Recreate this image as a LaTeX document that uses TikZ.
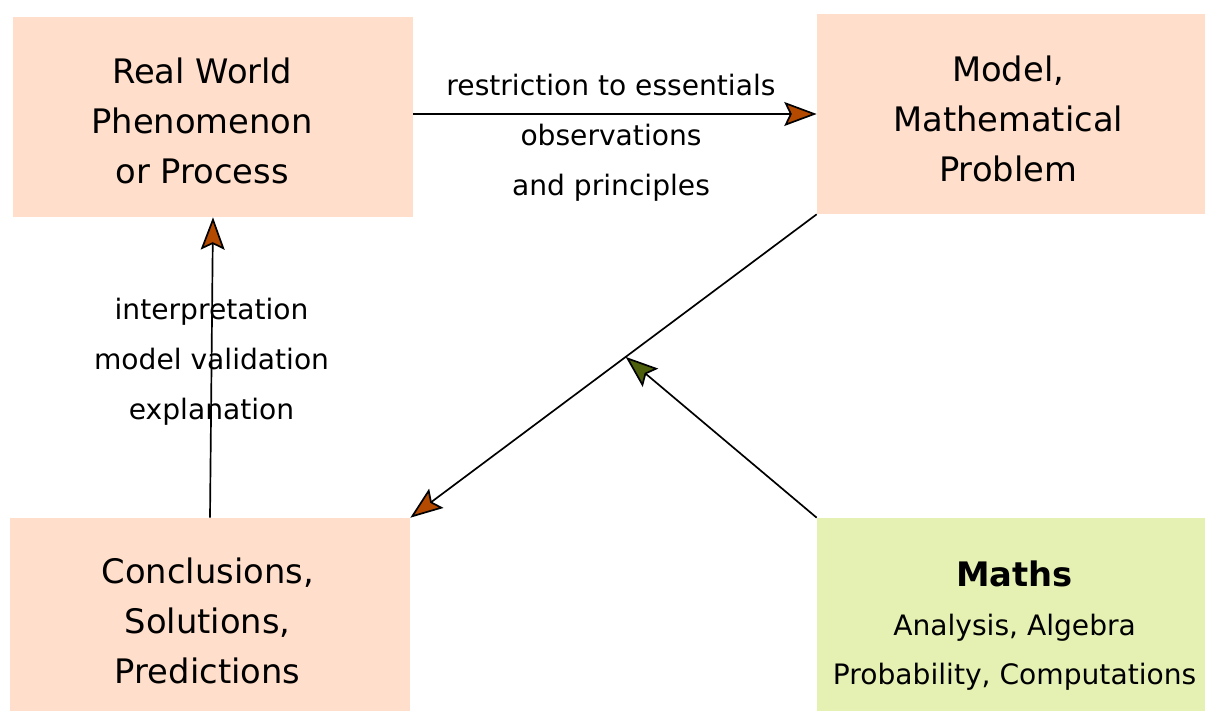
\documentclass[tikz,border=0pt]{standalone}
\usepackage{fontspec}
\setmainfont{DejaVu Sans}
\usetikzlibrary{positioning}
\usetikzlibrary{calc,arrows.meta}

\definecolor{peach}{HTML}{FFDECB}
\definecolor{lime}{HTML}{E5F0B3}
\definecolor{rust}{HTML}{B34A00}
\definecolor{olive}{HTML}{4E5F0C}

\tikzset{
	stage/.style={fill=peach, inner sep=0pt},
	stagetext/.style={align=center, font=\fontsize{24}{35.6}\selectfont},
	flow/.style={line width=1.2pt, arrows={-Stealth[length=23pt, width=17pt, inset=4pt, fill=rust]}},
	feed/.style={line width=1.2pt, arrows={-Stealth[length=23pt, width=17pt, inset=4pt, fill=olive]}},
	note/.style={align=center, font=\fontsize{20}{35.6}\selectfont},
}

\begin{document}
\begin{tikzpicture}[x=0.025cm, y=-0.025cm]
	\useasboundingbox (0,0) rectangle (1205,711);

	% ---------------------
	% Stages of the modelling cycle
	\node[stage, minimum width=10cm, minimum height=5cm,
		label={[stagetext, xshift=-0.27cm, yshift=-0.1cm]center:Real World\\Phenomenon\\or Process}]
		(RealWorld) at (213,117) {};
	\node[stage, minimum width=9.7cm, minimum height=5cm,
		label={[stagetext, xshift=-0.07cm, yshift=-0.13cm]center:Model,\\Mathematical\\Problem}]
		(Model) at (1011,114) {};
	\node[stage, minimum width=10cm, minimum height=4.825cm,
		label={[stagetext, xshift=-0.06cm, yshift=-0.15cm]center:Conclusions,\\Solutions,\\Predictions}]
		(Conclusions) at (210,614.5) {};
	\node[stage, fill=lime, minimum width=9.7cm, minimum height=4.825cm,
		label={[stagetext, font=\fontsize{20}{35}\selectfont, xshift=0.09cm, yshift=-0.28cm]center:%
		\textbf{\fontsize{24}{37}\selectfont Maths}\\Analysis, Algebra\\Probability, Computations}]
		(Maths) at (1011,614.5) {};

	% ---------------------
	% Point where the maths enters
	\coordinate (Solving) at ($(Model.south west)!0.47!(Conclusions.north east)$);

	% ---------------------
	% Arrows
	\draw[flow] (RealWorld.east |- Model.west) -- (Model.west)
		node[note, midway, above=9pt, xshift=-0.1cm] {restriction to essentials}
		node[note, midway, below=3pt, xshift=-0.1cm] {observations\\and principles};

	\draw[flow] (Model.south west) -- (Conclusions.north east);

	\draw[flow] (Conclusions.north) -- (RealWorld.south)
		node[note, pos=0.52] {interpretation\\model validation\\explanation};

	\draw[feed] (Maths.north west) -- (Solving);

\end{tikzpicture}
\end{document}
